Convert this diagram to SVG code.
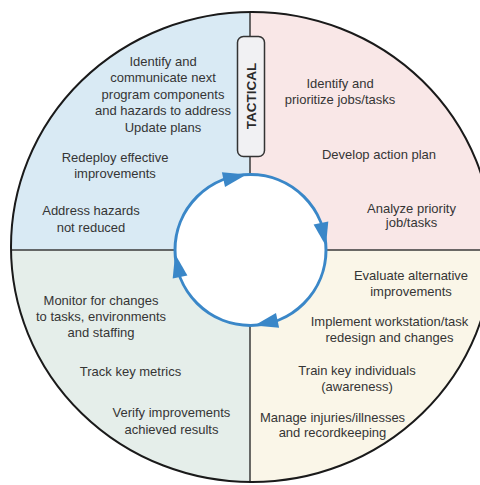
<svg xmlns="http://www.w3.org/2000/svg" width="480" height="485" viewBox="0 0 480 485">
<style>
.t{font-family:"Liberation Sans",Arial,sans-serif;font-size:13px;fill:#353535;text-anchor:middle}
.div{stroke:#3a3a3a;stroke-width:1.5;fill:none}
.cyc{fill:none;stroke:#3a87c8;stroke-width:3}
.ah{fill:#3a87c8}
</style>
<defs>
<clipPath id="disc"><ellipse cx="252" cy="247" rx="241" ry="235"/></clipPath>
<polygon id="arr" class="ah" points="246.6,174.6 221.9,172.2 225.0,186.9"/>
</defs>
<rect width="480" height="485" fill="#ffffff"/>
<g id="q-tl">
<rect x="0" y="0" width="250" height="250" fill="#d9eaf4" clip-path="url(#disc)"/>
<text class="t" x="163" y="66">Identify and</text>
<text class="t" x="163" y="82.4">communicate next</text>
<text class="t" x="163" y="98.8">program components</text>
<text class="t" x="163" y="115.2">and hazards to address</text>
<text class="t" x="163" y="131.6">Update plans</text>
<text class="t" x="115" y="161.5">Redeploy effective</text>
<text class="t" x="115" y="177.5">improvements</text>
<text class="t" x="91" y="215">Address hazards</text>
<text class="t" x="91" y="231.5">not reduced</text>
</g>
<g id="q-tr">
<rect x="250" y="0" width="230" height="250" fill="#f9e7e7" clip-path="url(#disc)"/>
<text class="t" x="340" y="87.5">Identify and</text>
<text class="t" x="340" y="103.5">prioritize jobs/tasks</text>
<text class="t" x="379" y="158.5">Develop action plan</text>
<text class="t" x="411.5" y="212.5">Analyze priority</text>
<text class="t" x="411.5" y="227">job/tasks</text>
</g>
<g id="q-bl">
<rect x="0" y="250" width="250" height="235" fill="#e5eeea" clip-path="url(#disc)"/>
<text class="t" x="101" y="305">Monitor for changes</text>
<text class="t" x="101" y="321">to tasks, environments</text>
<text class="t" x="101" y="337">and staffing</text>
<text class="t" x="130.5" y="376">Track key metrics</text>
<text class="t" x="171.5" y="417">Verify improvements</text>
<text class="t" x="171.5" y="433.5">achieved results</text>
</g>
<g id="q-br">
<rect x="250" y="250" width="230" height="235" fill="#faf6e8" clip-path="url(#disc)"/>
<text class="t" x="411" y="280">Evaluate alternative</text>
<text class="t" x="411" y="296">improvements</text>
<text class="t" x="389.5" y="326">Implement workstation/task</text>
<text class="t" x="389.5" y="342">redesign and changes</text>
<text class="t" x="357" y="375">Train key individuals</text>
<text class="t" x="357" y="391">(awareness)</text>
<text class="t" x="332.5" y="421.5">Manage injuries/illnesses</text>
<text class="t" x="332.5" y="437">and recordkeeping</text>
</g>
<g id="frame">
<line class="div" x1="250" y1="12" x2="250" y2="483"/>
<line class="div" x1="11" y1="250" x2="480" y2="250"/>
<ellipse cx="252" cy="247" rx="241" ry="235" fill="none" stroke="#1a1a1a" stroke-width="2"/>
</g>
<g id="tactical">
<rect x="237.5" y="36.5" width="27" height="120" rx="6" fill="#f1f1f3" stroke="#333333" stroke-width="1.5"/>
<text x="0" y="0" transform="translate(255.5 96) rotate(-90)" style="font-family:'Liberation Sans',Arial,sans-serif;font-size:13.5px;font-weight:bold;fill:#2a2a2a;text-anchor:middle">TACTICAL</text>
</g>
<g id="connectors">
<circle class="cyc" cx="250.5" cy="250" r="75.5" fill="#ffffff" style="fill:#ffffff"/>
<use href="#arr"/>
<use href="#arr" transform="rotate(90 250.5 250)"/>
<use href="#arr" transform="rotate(180 250.5 250)"/>
<use href="#arr" transform="rotate(270 250.5 250)"/>
</g>
</svg>
